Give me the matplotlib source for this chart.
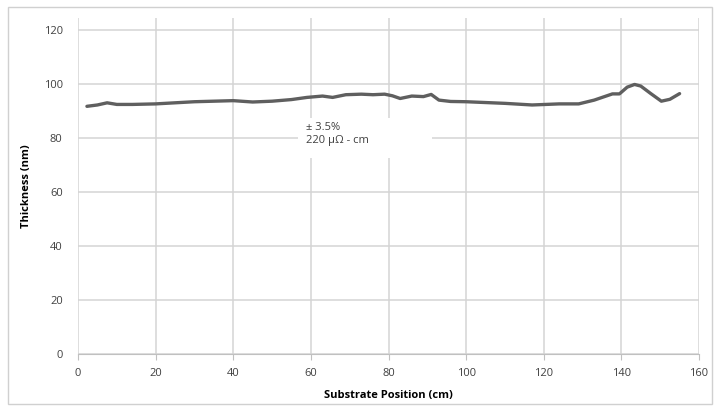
import matplotlib
matplotlib.use("Agg")
import matplotlib.pyplot as plt
from matplotlib.patches import Rectangle

plt.rcParams['font.family'] = ['Open Sans', 'DejaVu Sans']

# data
position = [2.3, 5, 7.5, 10, 14, 20, 25, 30, 35, 40, 45, 50, 55, 59, 63, 65.6,
            69, 73, 76, 79, 81, 83, 86, 89, 91, 93, 96, 100, 110, 117, 124, 129,
            133, 137.7, 139.5, 141.5, 143.4, 145, 147.5, 150.3, 152.5, 155]
thickness = [91.7, 92.2, 93.0, 92.4, 92.4, 92.6, 93.0, 93.4, 93.6, 93.8, 93.3, 93.6, 94.2,
             95.0, 95.5, 95.0, 96.0, 96.2, 96.0, 96.2, 95.6, 94.6, 95.5, 95.3, 96.1,
             94.0, 93.5, 93.4, 92.8, 92.2, 92.6, 92.6, 94.0, 96.3, 96.3, 98.8, 99.8,
             99.2, 96.5, 93.6, 94.3, 96.4]
x_ticks = [0, 20, 40, 60, 80, 100, 120, 140, 160]
y_ticks = [0, 20, 40, 60, 80, 100, 120]
note = '± 3.5%\n220 µΩ - cm'

fig = plt.figure(figsize=(7.15, 4.08), dpi=100)
fig.patches.append(Rectangle((8 / 715, 4 / 408), 704 / 715, 397 / 408,
                             transform=fig.transFigure, fill=False,
                             edgecolor='#d0d0d0', linewidth=1))
ax = fig.add_axes([78 / 715, 1 - 354 / 408, 621 / 715, 336 / 408])

grid_c = '#d4d4d4'
txt_c = '#404040'
ax.plot(position, thickness, color='#5f5f5f', linewidth=2.4, zorder=3,
        solid_capstyle='round')

ax.set_xlim(0, 160)
ax.set_ylim(0, 124.4)
ax.set_xticks(x_ticks)
ax.set_yticks(y_ticks)
ax.grid(True, color=grid_c, linewidth=1.1)
ax.set_axisbelow(True)
for s in ['top', 'right', 'left']:
    ax.spines[s].set_visible(False)
ax.spines['bottom'].set_color('#c0c0c0')
ax.tick_params(axis='x', colors='#c0c0c0', length=4, labelcolor=txt_c,
               labelsize=8, pad=6)
ax.tick_params(axis='y', length=0, labelcolor=txt_c, labelsize=8, pad=11)

# white label box that hides the grid behind the note
ax.add_patch(Rectangle((56.6, 72.6), 34.5, 14.8, facecolor='white',
                       edgecolor='none', zorder=2))
ax.text(58.8, 86.0, note, fontsize=8, color=txt_c, va='top', ha='left',
        linespacing=1.3, zorder=4)

ax.set_xlabel('Substrate Position (cm)', fontsize=8, fontweight='bold',
              color='black', labelpad=8)
ax.set_ylabel('Thickness (nm)', fontsize=8, fontweight='bold', color='black',
              labelpad=8)

fig.savefig('out.png', dpi=100)
